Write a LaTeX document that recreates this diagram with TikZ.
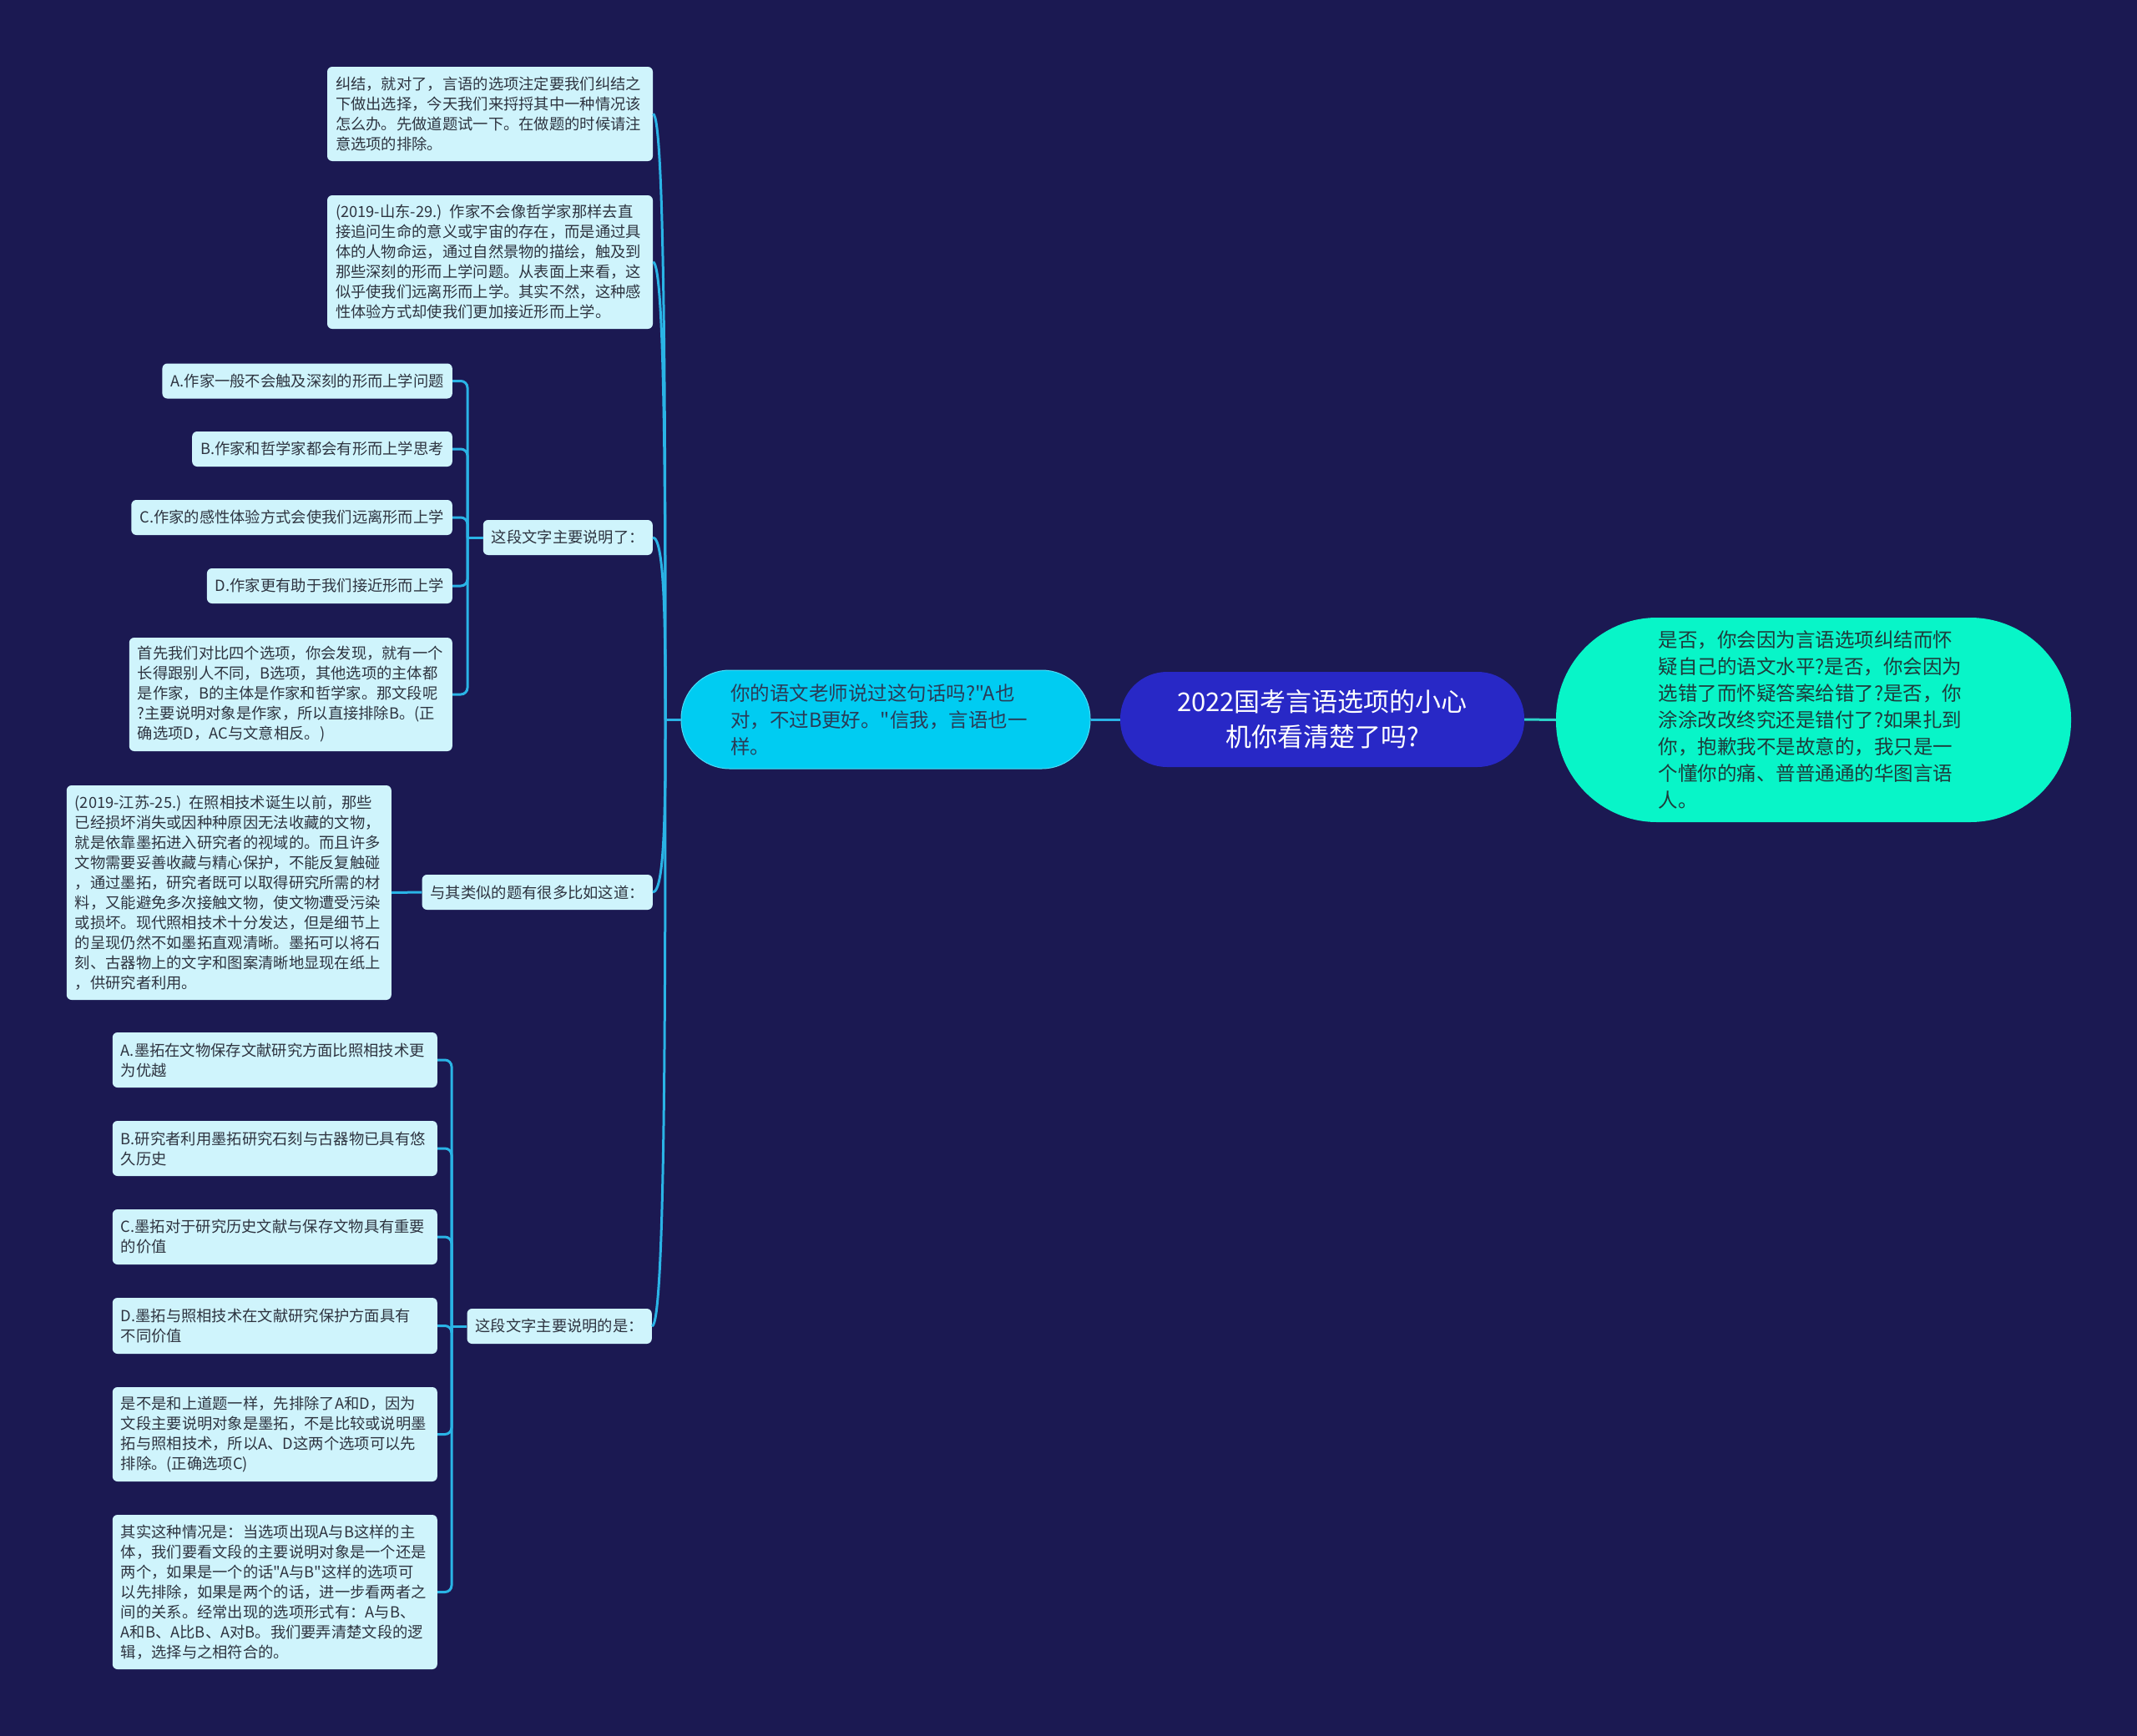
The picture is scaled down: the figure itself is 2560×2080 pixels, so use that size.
\documentclass[tikz,border=0pt]{standalone}
\usepackage{fontspec}
\usetikzlibrary{calc}
\newfontfamily\cjk{Noto Sans CJK SC}
\definecolor{bgc}{HTML}{1B1952}
\definecolor{sfill}{HTML}{CFF4FC}
\definecolor{stext}{HTML}{2E3440}
\definecolor{connc}{HTML}{2AB4E6}
\definecolor{lonec}{HTML}{00CCF2}
\definecolor{lonetext}{HTML}{2B3A55}
\definecolor{rootc}{HTML}{2828C6}
\definecolor{rightc}{HTML}{08F5C8}
\definecolor{righttext}{HTML}{1E3B3B}
\definecolor{tealc}{HTML}{2CD3C9}
\tikzset{
  sbox/.style={fill=sfill, text=stext, rounded corners=6pt, inner xsep=10pt, inner ysep=0pt,
    align=left, font=\cjk\fontsize{18.3}{24}\selectfont},
  sline/.style={sbox, minimum height=42pt, anchor=east},
  conn/.style={draw=connc, line width=3pt},
  elbow/.style={conn, rounded corners=8pt},
}
\begin{document}
\begin{tikzpicture}[x=1pt,y=-1pt]
\fill[bgc] (0,0) rectangle (2560,2080);
\useasboundingbox (0,0) rectangle (2560,2080);

% central nodes
\node[fill=rootc, text=white, rounded corners=56pt, minimum width=484pt, minimum height=114pt,
  align=center, inner sep=0pt, font=\cjk\fontsize{31}{42}\selectfont] (root) at (1584,862)
  {2022国考言语选项的小心\\机你看清楚了吗?};
\node[fill=lonec, draw=lonec!70!white, line width=1pt, text=lonetext, rounded corners=58pt, minimum width=490pt, minimum height=118pt,
  text width=372pt, align=left, inner sep=0pt, font=\cjk\fontsize{23.5}{32}\selectfont] (l1) at (1061,862)
  {你的语文老师说过这句话吗?"A也\\对，不过B更好。"信我，言语也一\\样。};
\node[fill=rightc, text=righttext, rounded corners=121pt, minimum width=617pt, minimum height=245pt,
  text width=372pt, align=left, inner sep=0pt, font=\cjk\fontsize{23.5}{32}\selectfont] (rt) at (2172.5,862.5)
  {是否，你会因为言语选项纠结而怀\\疑自己的语文水平?是否，你会因为\\选错了而怀疑答案给错了?是否，你\\涂涂改改终究还是错付了?如果扎到\\你，抱歉我不是故意的，我只是一\\个懂你的痛、普普通通的华图言语\\人。};

% level-2 nodes
\node[sbox, text width=370pt, minimum height=113pt] (n1) at (587,136.5)
  {纠结，就对了，言语的选项注定要我们纠结之\\下做出选择，今天我们来捋捋其中一种情况该\\怎么办。先做道题试一下。在做题的时候请注\\意选项的排除。};
\node[sbox, text width=370pt, minimum height=160pt] (n2) at (587,314)
  {(2019-山东-29.) 作家不会像哲学家那样去直\\接追问生命的意义或宇宙的存在，而是通过具\\体的人物命运，通过自然景物的描绘，触及到\\那些深刻的形而上学问题。从表面上来看，这\\似乎使我们远离形而上学。其实不然，这种感\\性体验方式却使我们更加接近形而上学。};
\node[sline] (n3) at (782,644) {这段文字主要说明了：};
\node[sline] (n5) at (782,1069) {与其类似的题有很多比如这道：};
\node[sline] (n6) at (781,1589) {这段文字主要说明的是：};

% children of n3
\node[sline] (a1) at (542,456.5) {A.作家一般不会触及深刻的形而上学问题};
\node[sline] (b1) at (542,538) {B.作家和哲学家都会有形而上学思考};
\node[sline] (c1) at (542,620) {C.作家的感性体验方式会使我们远离形而上学};
\node[sline] (d1) at (542,702) {D.作家更有助于我们接近形而上学};
\node[sbox, text width=367pt, minimum height=136pt, anchor=east] (e1) at (542,832)
  {首先我们对比四个选项，你会发现，就有一个\\长得跟别人不同，B选项，其他选项的主体都\\是作家，B的主体是作家和哲学家。那文段呢\\?主要说明对象是作家，所以直接排除B。(正\\确选项D，AC与文意相反。)};

% child of n5
\node[sbox, text width=369pt, minimum height=257pt, anchor=east] (n4) at (469,1069.5)
  {(2019-江苏-25.) 在照相技术诞生以前，那些\\已经损坏消失或因种种原因无法收藏的文物，\\就是依靠墨拓进入研究者的视域的。而且许多\\文物需要妥善收藏与精心保护，不能反复触碰\\，通过墨拓，研究者既可以取得研究所需的材\\料，又能避免多次接触文物，使文物遭受污染\\或损坏。现代照相技术十分发达，但是细节上\\的呈现仍然不如墨拓直观清晰。墨拓可以将石\\刻、古器物上的文字和图案清晰地显现在纸上\\，供研究者利用。};

% children of n6
\tikzset{lbox/.style={sbox, text width=369pt, anchor=east}}
\node[lbox, minimum height=66pt] (a2) at (524,1270) {A.墨拓在文物保存文献研究方面比照相技术更\\为优越};
\node[lbox, minimum height=66pt] (b2) at (524,1376) {B.研究者利用墨拓研究石刻与古器物已具有悠\\久历史};
\node[lbox, minimum height=66pt] (c2) at (524,1482) {C.墨拓对于研究历史文献与保存文物具有重要\\的价值};
\node[lbox, minimum height=67pt] (d2) at (524,1588.5) {D.墨拓与照相技术在文献研究保护方面具有\\不同价值};
\node[lbox, minimum height=113pt] (e2) at (524,1718.5)
  {是不是和上道题一样，先排除了A和D，因为\\文段主要说明对象是墨拓，不是比较或说明墨\\拓与照相技术，所以A、D这两个选项可以先\\排除。(正确选项C)};
\node[lbox, minimum height=185pt] (f2) at (524,1907.5)
  {其实这种情况是：当选项出现A与B这样的主\\体，我们要看文段的主要说明对象是一个还是\\两个，如果是一个的话"A与B"这样的选项可\\以先排除，如果是两个的话，进一步看两者之\\间的关系。经常出现的选项形式有：A与B、\\A和B、A比B、A对B。我们要弄清楚文段的逻\\辑，选择与之相符合的。};

% connectors between central nodes
\draw[conn] (root.west) -- (l1.east);
\draw[draw=tealc, line width=3pt] (root.east) -- (rt.west);

% trunk from l1
\coordinate (tr) at (797,862);
\draw[conn] (l1.west) -- (tr);
\foreach \n in {n1,n2,n3,n5,n6}{
  \draw[conn] (tr) .. controls ($(tr)!0.45!(tr |- \n.east)$) and (tr |- \n.east) .. (\n.east);
}

% elbows for n3
\coordinate (t3) at (560,644);
\draw[conn] (n3.west) -- (t3);
\foreach \n in {a1,b1,c1,d1,e1}{
  \draw[elbow] (t3) |- (\n.east);
}

% n5 to n4
\draw[conn] (n5.west) -- (n4.east);

% elbows for n6
\coordinate (t6) at (541,1589);
\draw[conn] (n6.west) -- (t6);
\foreach \n in {a2,b2,c2,d2,e2,f2}{
  \draw[elbow] (t6) |- (\n.east);
}
\end{tikzpicture}
\end{document}
